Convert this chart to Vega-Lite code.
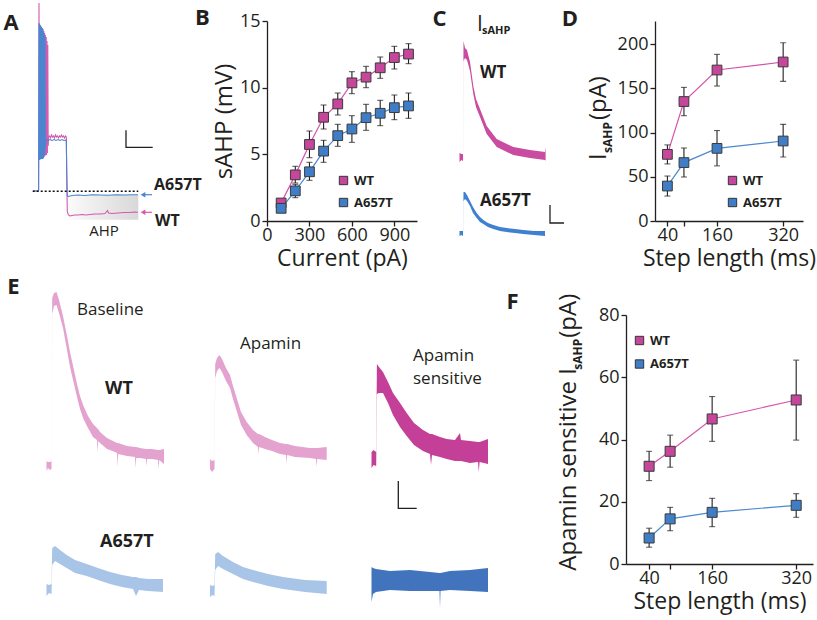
{
"$schema":"https://vega.github.io/schema/vega-lite/v6.json",
"padding":{"left":0,"top":0,"right":0,"bottom":4},
"autosize":{"type":"pad"},
"config":{
 "view":{"stroke":null},
 "font":"Open Sans",
 "axis":{"domainColor":"#231f20","domainWidth":1.3,"tickColor":"#231f20","tickWidth":1.3,"tickSize":5,"labelColor":"#231f20","labelFontSize":18,"labelPadding":0,"titleFontSize":23,"titleFontWeight":"normal","titleColor":"#231f20","grid":false,"labelFlush":false,"labelOverlap":false,"titlePadding":3},
 "legend":{"padding":0,"symbolType":"square","symbolSize":70,"symbolStrokeColor":"#333333","symbolStrokeWidth":1,"labelFontSize":13,"labelFontWeight":"bold","labelColor":"#231f20","labelOffset":4,"rowPadding":8}
},
"datasets":{
 "notes":[
  {"p":"Abig","txt":"A","t":11,"v":198},{"p":"Abig","txt":"B","t":202.5,"v":203},
  {"p":"Alab","txt":"A657T","t":154,"v":36},{"p":"Alab","txt":"WT","t":155,"v":0},
  {"p":"Anorm","txt":"AHP","t":104,"v":-10},
  {"p":"Cbig","txt":"C","t":22.5,"v":202},{"p":"Cbig","txt":"D","t":153,"v":202},
  {"p":"Clab","txt":"WT","t":63,"v":148},{"p":"Clab","txt":"A657T","t":63,"v":20},
  {"p":"CI","txt":"I","t":60,"v":190},{"p":"Csub","txt":"sAHP","t":65,"v":187},
  {"p":"DI","txt":"I","t":-108.5,"v":68.9},{"p":"DI","txt":"(pA)","t":-108.5,"v":114},{"p":"Dsub","txt":"sAHP","t":-94,"v":76.8},
  {"p":"Ebig","txt":"E","t":13.5,"v":277},{"p":"Ebig","txt":"F","t":512.5,"v":262},
  {"p":"Enorm","txt":"Baseline","t":77,"v":254},{"p":"Enorm","txt":"Apamin","t":240,"v":220.5},{"p":"Enorm","txt":"Apamin","t":413,"v":208},{"p":"Enorm","txt":"sensitive","t":413,"v":185},
  {"p":"Elab","txt":"WT","t":105,"v":175.5},{"p":"Elab","txt":"A657T","t":100,"v":22.5},
  {"p":"FI","txt":"Apamin sensitive I","t":-99.2,"v":-2.15},{"p":"FI","txt":"(pA)","t":-99.2,"v":72.7},{"p":"Fsub","txt":"sAHP","t":-87.8,"v":62.4}
 ],
 "A":[
  {"s":"box","t":67,"hi":26.3,"lo":1.3},{"s":"box","t":138.3,"hi":26.3,"lo":1.3},
  {"s":"bar","t":126,"v":90.7},{"s":"bar","t":126.01,"v":73.7},{"s":"bar","t":152.7,"v":73.7},
  {"s":"base","t":32.7,"v":29.7},{"s":"base","t":138.3,"v":29.7},
  {"s":"arrM","t":143,"v":26.3},{"s":"arrM","t":152,"v":26.3},
  {"s":"arrW","t":143,"v":8.7},{"s":"arrW","t":152,"v":8.7},
  {"s":"WT","t":33,"v":30},{"s":"WT","t":38,"v":30},{"s":"WT","t":38.6,"v":31},{"s":"WT","t":39,"v":218},{"s":"WT","t":39.4,"v":70},{"s":"WT","t":39.8,"v":196},{"s":"WT","t":40.2,"v":68},{"s":"WT","t":40.6,"v":195},{"s":"WT","t":41,"v":66},{"s":"WT","t":41.4,"v":194},{"s":"WT","t":41.8,"v":66},{"s":"WT","t":42.2,"v":193},{"s":"WT","t":42.6,"v":65},{"s":"WT","t":43,"v":192},{"s":"WT","t":43.4,"v":65},{"s":"WT","t":43.8,"v":190},{"s":"WT","t":44.2,"v":65},{"s":"WT","t":44.6,"v":188},{"s":"WT","t":45,"v":65},{"s":"WT","t":45.4,"v":186},{"s":"WT","t":45.8,"v":66},{"s":"WT","t":46.2,"v":184},{"s":"WT","t":46.6,"v":66},{"s":"WT","t":47,"v":180},{"s":"WT","t":47.4,"v":68},{"s":"WT","t":47.8,"v":176},{"s":"WT","t":48.2,"v":75},{"s":"WT","t":48.6,"v":84},{"s":"WT","t":49.5,"v":85},{"s":"WT","t":50.5,"v":83},{"s":"WT","t":51.5,"v":86},{"s":"WT","t":52.5,"v":84},{"s":"WT","t":53.5,"v":85},{"s":"WT","t":54.5,"v":83},{"s":"WT","t":55.5,"v":86},{"s":"WT","t":56.5,"v":84},{"s":"WT","t":57.5,"v":85},{"s":"WT","t":58.5,"v":83},{"s":"WT","t":59.5,"v":85},{"s":"WT","t":60.5,"v":84},{"s":"WT","t":61.5,"v":86},{"s":"WT","t":62.5,"v":84},{"s":"WT","t":63.5,"v":85},{"s":"WT","t":64.5,"v":83},{"s":"WT","t":65.5,"v":85},{"s":"WT","t":66.3,"v":84},{"s":"WT","t":66.8,"v":40},{"s":"WT","t":67.3,"v":9},{"s":"WT","t":68.5,"v":6},{"s":"WT","t":70,"v":5},{"s":"WT","t":72,"v":5.5},{"s":"WT","t":75,"v":6},{"s":"WT","t":78,"v":6},{"s":"WT","t":82,"v":6.5},{"s":"WT","t":86,"v":6},{"s":"WT","t":90,"v":6.5},{"s":"WT","t":95,"v":7},{"s":"WT","t":100,"v":7},{"s":"WT","t":105,"v":7.5},{"s":"WT","t":107.5,"v":10.5},{"s":"WT","t":108.5,"v":8},{"s":"WT","t":112,"v":7.5},{"s":"WT","t":118,"v":8},{"s":"WT","t":124,"v":8.5},{"s":"WT","t":130,"v":8.5},{"s":"WT","t":134,"v":9},{"s":"WT","t":138,"v":8.7},
  {"s":"M","t":33,"v":30},{"s":"M","t":38,"v":30},{"s":"M","t":38.6,"v":31},{"s":"M","t":39,"v":198},{"s":"M","t":39.3,"v":61},{"s":"M","t":39.6,"v":197},{"s":"M","t":39.9,"v":61},{"s":"M","t":40.2,"v":196},{"s":"M","t":40.5,"v":62},{"s":"M","t":40.8,"v":195},{"s":"M","t":41.1,"v":62},{"s":"M","t":41.4,"v":194},{"s":"M","t":41.7,"v":62},{"s":"M","t":42,"v":193},{"s":"M","t":42.3,"v":62},{"s":"M","t":42.6,"v":192},{"s":"M","t":42.9,"v":62},{"s":"M","t":43.2,"v":190},{"s":"M","t":43.5,"v":63},{"s":"M","t":43.8,"v":188},{"s":"M","t":44.1,"v":64},{"s":"M","t":44.4,"v":186},{"s":"M","t":44.7,"v":66},{"s":"M","t":45,"v":184},{"s":"M","t":45.3,"v":72},{"s":"M","t":45.7,"v":80},{"s":"M","t":46.5,"v":81.5},{"s":"M","t":48,"v":80.5},{"s":"M","t":50,"v":81.5},{"s":"M","t":52,"v":80.5},{"s":"M","t":54,"v":81.5},{"s":"M","t":56,"v":80.5},{"s":"M","t":58,"v":81.5},{"s":"M","t":60,"v":80.5},{"s":"M","t":62,"v":81.5},{"s":"M","t":64,"v":80.5},{"s":"M","t":66.3,"v":81},{"s":"M","t":66.8,"v":45},{"s":"M","t":67.3,"v":25},{"s":"M","t":68.5,"v":24.5},{"s":"M","t":72,"v":25.5},{"s":"M","t":78,"v":26},{"s":"M","t":85,"v":25.5},{"s":"M","t":92,"v":26.2},{"s":"M","t":100,"v":26},{"s":"M","t":108,"v":25.7},{"s":"M","t":116,"v":26.3},{"s":"M","t":124,"v":26},{"s":"M","t":132,"v":26.2},{"s":"M","t":138,"v":26.3}
 ],
 "C":[
  {"s":"bar","t":133,"hi":16},{"s":"bar","t":133.01,"hi":-2},{"s":"bar","t":147,"hi":-2},
  {"s":"WT","t":42.5,"hi":68,"lo":59},{"s":"WT","t":44.5,"hi":67,"lo":61},{"s":"WT","t":46,"hi":67,"lo":60},{"s":"WT","t":46.5,"hi":180,"lo":160},{"s":"WT","t":48,"hi":173,"lo":163},{"s":"WT","t":50,"hi":171,"lo":161},{"s":"WT","t":53,"hi":159,"lo":150},{"s":"WT","t":56.3,"hi":135,"lo":127},{"s":"WT","t":59,"hi":122,"lo":114},{"s":"WT","t":63,"hi":112,"lo":104},{"s":"WT","t":69.7,"hi":95,"lo":87},{"s":"WT","t":79.7,"hi":82,"lo":74},{"s":"WT","t":96.3,"hi":74,"lo":66},{"s":"WT","t":113,"hi":71,"lo":63},{"s":"WT","t":128,"hi":69,"lo":61},{"s":"WT","t":128.6,"hi":74,"lo":60},
  {"s":"M","t":42.5,"hi":-10,"lo":-15},{"s":"M","t":44.5,"hi":-10,"lo":-14},{"s":"M","t":46,"hi":-10,"lo":-15},{"s":"M","t":46.5,"hi":29,"lo":20},{"s":"M","t":48,"hi":29,"lo":22},{"s":"M","t":50,"hi":26,"lo":20},{"s":"M","t":53,"hi":20,"lo":15},{"s":"M","t":56,"hi":14,"lo":8},{"s":"M","t":59.7,"hi":8,"lo":3},{"s":"M","t":63,"hi":4,"lo":-1},{"s":"M","t":66.3,"hi":1,"lo":-3},{"s":"M","t":71,"hi":-2,"lo":-6},{"s":"M","t":76.3,"hi":-4,"lo":-8},{"s":"M","t":83,"hi":-6,"lo":-10},{"s":"M","t":89.7,"hi":-7,"lo":-11},{"s":"M","t":98,"hi":-8,"lo":-12},{"s":"M","t":106.3,"hi":-9,"lo":-13},{"s":"M","t":117,"hi":-10,"lo":-14},{"s":"M","t":128,"hi":-10,"lo":-15}
 ],
 "E":[
  {"s":"bar","t":398.3,"hi":83},{"s":"bar","t":398.31,"hi":55.7},{"s":"bar","t":416.7,"hi":55.7},
  {"s":"wtb","t":46.5,"hi":103,"lo":93},{"s":"wtb","t":48,"hi":102,"lo":96},{"s":"wtb","t":50,"hi":102,"lo":94},{"s":"wtb","t":51.5,"hi":103,"lo":95},{"s":"wtb","t":52.2,"hi":266,"lo":250},{"s":"wtb","t":54,"hi":271,"lo":258},{"s":"wtb","t":56.5,"hi":272,"lo":259},{"s":"wtb","t":59,"hi":264,"lo":251},{"s":"wtb","t":63,"hi":248,"lo":236},{"s":"wtb","t":67,"hi":228,"lo":214},{"s":"wtb","t":70,"hi":212,"lo":197},{"s":"wtb","t":73.5,"hi":196,"lo":182},{"s":"wtb","t":77,"hi":180,"lo":167},{"s":"wtb","t":80,"hi":168,"lo":155},{"s":"wtb","t":83.5,"hi":158,"lo":145},{"s":"wtb","t":88,"hi":148,"lo":136},{"s":"wtb","t":93,"hi":140,"lo":127},{"s":"wtb","t":97,"hi":136,"lo":124},{"s":"wtb","t":97.6,"hi":135,"lo":112},{"s":"wtb","t":98.2,"hi":135,"lo":123},{"s":"wtb","t":100,"hi":132,"lo":121},{"s":"wtb","t":107,"hi":126,"lo":115},{"s":"wtb","t":115,"hi":122,"lo":112},{"s":"wtb","t":117,"hi":121,"lo":111},{"s":"wtb","t":117.6,"hi":121,"lo":97},{"s":"wtb","t":118.2,"hi":121,"lo":110},{"s":"wtb","t":127,"hi":118,"lo":108},{"s":"wtb","t":135,"hi":117,"lo":107},{"s":"wtb","t":135.6,"hi":117,"lo":96},{"s":"wtb","t":136.2,"hi":117,"lo":106},{"s":"wtb","t":140,"hi":116,"lo":106},{"s":"wtb","t":146,"hi":115,"lo":105},{"s":"wtb","t":146.6,"hi":115,"lo":98},{"s":"wtb","t":147.2,"hi":115,"lo":105},{"s":"wtb","t":152,"hi":115,"lo":105},{"s":"wtb","t":158,"hi":114,"lo":104},{"s":"wtb","t":158.6,"hi":114,"lo":95},{"s":"wtb","t":159.2,"hi":114,"lo":104},{"s":"wtb","t":164,"hi":115,"lo":100},
  {"s":"wta","t":210,"hi":105,"lo":95},{"s":"wta","t":212,"hi":103,"lo":92},{"s":"wta","t":214.5,"hi":104,"lo":95},{"s":"wta","t":215.2,"hi":200,"lo":186},{"s":"wta","t":217,"hi":206,"lo":193},{"s":"wta","t":219.5,"hi":209,"lo":196},{"s":"wta","t":222,"hi":205,"lo":192},{"s":"wta","t":226,"hi":196,"lo":183},{"s":"wta","t":230,"hi":189,"lo":176},{"s":"wta","t":233,"hi":178,"lo":165},{"s":"wta","t":236.7,"hi":166,"lo":153},{"s":"wta","t":241,"hi":152,"lo":139},{"s":"wta","t":246.7,"hi":142,"lo":129},{"s":"wta","t":253,"hi":134,"lo":121},{"s":"wta","t":258,"hi":130,"lo":117},{"s":"wta","t":258.6,"hi":130,"lo":110},{"s":"wta","t":259.2,"hi":130,"lo":117},{"s":"wta","t":265,"hi":127,"lo":115},{"s":"wta","t":272,"hi":124,"lo":113},{"s":"wta","t":280,"hi":121,"lo":110},{"s":"wta","t":286,"hi":120,"lo":109},{"s":"wta","t":286.6,"hi":120,"lo":100},{"s":"wta","t":287.2,"hi":120,"lo":109},{"s":"wta","t":295,"hi":118,"lo":107},{"s":"wta","t":310,"hi":116,"lo":106},{"s":"wta","t":316,"hi":116,"lo":105},{"s":"wta","t":316.6,"hi":116,"lo":97},{"s":"wta","t":317.2,"hi":116,"lo":105},{"s":"wta","t":326.7,"hi":117,"lo":104},
  {"s":"wts","t":371.5,"hi":112,"lo":96},{"s":"wts","t":373.5,"hi":114,"lo":99},{"s":"wts","t":376.2,"hi":112,"lo":98},{"s":"wts","t":376.9,"hi":200,"lo":170},{"s":"wts","t":379,"hi":197,"lo":171},{"s":"wts","t":383,"hi":192,"lo":171},{"s":"wts","t":388,"hi":182,"lo":161},{"s":"wts","t":393,"hi":171,"lo":149},{"s":"wts","t":400,"hi":161,"lo":137},{"s":"wts","t":406.7,"hi":151,"lo":128},{"s":"wts","t":414,"hi":141,"lo":119},{"s":"wts","t":423,"hi":134,"lo":113},{"s":"wts","t":430,"hi":130,"lo":110},{"s":"wts","t":431,"hi":130,"lo":99},{"s":"wts","t":432,"hi":130,"lo":109},{"s":"wts","t":440,"hi":127,"lo":107},{"s":"wts","t":446.7,"hi":125,"lo":105},{"s":"wts","t":455,"hi":124,"lo":103},{"s":"wts","t":460,"hi":131,"lo":103},{"s":"wts","t":461,"hi":124,"lo":103},{"s":"wts","t":470,"hi":123,"lo":101},{"s":"wts","t":478,"hi":122,"lo":102},{"s":"wts","t":478.8,"hi":122,"lo":92},{"s":"wts","t":479.6,"hi":122,"lo":102},{"s":"wts","t":488,"hi":125,"lo":100},
  {"s":"mb","t":46.5,"hi":-20,"lo":-32},{"s":"mb","t":49,"hi":-21,"lo":-29},{"s":"mb","t":51.5,"hi":-20,"lo":-30},{"s":"mb","t":52.2,"hi":16,"lo":-1},{"s":"mb","t":55,"hi":18,"lo":3},{"s":"mb","t":60,"hi":14,"lo":0},{"s":"mb","t":66.7,"hi":9,"lo":-4},{"s":"mb","t":75,"hi":4,"lo":-9},{"s":"mb","t":86.7,"hi":0,"lo":-12},{"s":"mb","t":98,"hi":-4,"lo":-16},{"s":"mb","t":110,"hi":-8,"lo":-20},{"s":"mb","t":122,"hi":-11,"lo":-23},{"s":"mb","t":133,"hi":-13,"lo":-25},{"s":"mb","t":136,"hi":-13,"lo":-32},{"s":"mb","t":139,"hi":-14,"lo":-26},{"s":"mb","t":148,"hi":-15,"lo":-27},{"s":"mb","t":163,"hi":-15,"lo":-28},
  {"s":"ma","t":210,"hi":-21,"lo":-33},{"s":"ma","t":212.5,"hi":-22,"lo":-31},{"s":"ma","t":214.5,"hi":-21,"lo":-32},{"s":"ma","t":215.2,"hi":10,"lo":-6},{"s":"ma","t":218,"hi":12,"lo":-2},{"s":"ma","t":223,"hi":8,"lo":-5},{"s":"ma","t":233,"hi":2,"lo":-10},{"s":"ma","t":243,"hi":-3,"lo":-15},{"s":"ma","t":253,"hi":-6,"lo":-18},{"s":"ma","t":268,"hi":-10,"lo":-22},{"s":"ma","t":283,"hi":-13,"lo":-25},{"s":"ma","t":305,"hi":-16,"lo":-28},{"s":"ma","t":326.7,"hi":-17,"lo":-30},
  {"s":"ms","t":371.5,"hi":-3,"lo":-38},{"s":"ms","t":373,"hi":-4,"lo":-30},{"s":"ms","t":376,"hi":-5,"lo":-28},{"s":"ms","t":390,"hi":-7,"lo":-26},{"s":"ms","t":410,"hi":-6,"lo":-27},{"s":"ms","t":430,"hi":-8,"lo":-27},{"s":"ms","t":439.5,"hi":-9,"lo":-27},{"s":"ms","t":440,"hi":-9,"lo":-44},{"s":"ms","t":440.5,"hi":-9,"lo":-27},{"s":"ms","t":450,"hi":-7,"lo":-26},{"s":"ms","t":470,"hi":-6,"lo":-27},{"s":"ms","t":488,"hi":-4,"lo":-28}
 ],
 "B":[
  {"g":"WT","x":100,"m":1.35,"lo":1.1,"hi":1.6},{"g":"WT","x":200,"m":3.46,"lo":2.85,"hi":4.1},{"g":"WT","x":300,"m":5.74,"lo":4.75,"hi":6.75},{"g":"WT","x":400,"m":7.78,"lo":6.9,"hi":8.7},{"g":"WT","x":500,"m":8.78,"lo":7.95,"hi":9.6},{"g":"WT","x":600,"m":10.36,"lo":9.55,"hi":11.2},{"g":"WT","x":700,"m":10.79,"lo":10.0,"hi":11.6},{"g":"WT","x":800,"m":11.49,"lo":10.7,"hi":12.3},{"g":"WT","x":900,"m":12.26,"lo":11.4,"hi":13.1},{"g":"WT","x":1000,"m":12.52,"lo":11.8,"hi":13.3},
  {"g":"A657T","x":100,"m":0.95,"lo":0.7,"hi":1.2},{"g":"A657T","x":200,"m":2.26,"lo":1.75,"hi":2.75},{"g":"A657T","x":300,"m":3.69,"lo":3.05,"hi":4.4},{"g":"A657T","x":400,"m":5.24,"lo":4.4,"hi":6.05},{"g":"A657T","x":500,"m":6.4,"lo":5.6,"hi":7.25},{"g":"A657T","x":600,"m":6.9,"lo":5.9,"hi":7.9},{"g":"A657T","x":700,"m":7.75,"lo":6.8,"hi":8.75},{"g":"A657T","x":800,"m":8.08,"lo":7.15,"hi":9.05},{"g":"A657T","x":900,"m":8.5,"lo":7.6,"hi":9.45},{"g":"A657T","x":1000,"m":8.63,"lo":7.7,"hi":9.6}
 ],
 "D":[
  {"g":"WT","x":40,"m":75.3,"lo":64.5,"hi":86},{"g":"WT","x":80,"m":135,"lo":119,"hi":151},{"g":"WT","x":160,"m":170.6,"lo":152.5,"hi":188.3},{"g":"WT","x":320,"m":179.7,"lo":157.8,"hi":201.5},
  {"g":"A657T","x":40,"m":39.5,"lo":28.2,"hi":50.8},{"g":"A657T","x":80,"m":66,"lo":49.7,"hi":82.5},{"g":"A657T","x":160,"m":82.1,"lo":62.3,"hi":102.2},{"g":"A657T","x":320,"m":90.4,"lo":72.3,"hi":109.2}
 ],
 "F":[
  {"g":"WT","x":40,"m":31.4,"lo":26.8,"hi":36.2},{"g":"WT","x":80,"m":36.2,"lo":31.1,"hi":41.4},{"g":"WT","x":160,"m":46.6,"lo":39.4,"hi":53.8},{"g":"WT","x":320,"m":52.7,"lo":39.8,"hi":65.5},
  {"g":"A657T","x":40,"m":8.35,"lo":5.4,"hi":11.5},{"g":"A657T","x":80,"m":14.5,"lo":10.7,"hi":18.2},{"g":"A657T","x":160,"m":16.6,"lo":12.0,"hi":21.1},{"g":"A657T","x":320,"m":18.85,"lo":15.0,"hi":22.6}
 ]
},
"spacing":5,
"bounds":"full",
"resolve":{"scale":{"color":"independent"},"legend":{"color":"independent"}},
"vconcat":[
 {"hconcat":[
  {"width":267,"height":200,
   "data":{"name":"A"},
   "encoding":{"x":{"field":"t","type":"quantitative","scale":{"domain":[0,267],"nice":false,"zero":false},"axis":null},"y":{"field":"v","type":"quantitative","scale":{"domain":[0,200],"nice":false,"zero":false},"axis":null}},
   "layer":[
    {"transform":[{"filter":"datum.s === 'box'"}],"mark":{"type":"area","fill":{"gradient":"linear","x1":0,"y1":0,"x2":1,"y2":0,"stops":[{"offset":0,"color":"#fbfbfb"},{"offset":1,"color":"#d8d8d8"}]}},"encoding":{"y":{"field":"hi","type":"quantitative"},"y2":{"field":"lo"}}},
    {"transform":[{"filter":"datum.s === 'WT'"}],"mark":{"type":"line","color":"#d65aae","strokeWidth":1.1}},
    {"transform":[{"filter":"datum.s === 'M'"}],"mark":{"type":"line","color":"#4a86cf","strokeWidth":1.1}},
    {"transform":[{"filter":"datum.s === 'base'"}],"mark":{"type":"line","color":"#111111","strokeWidth":1.6,"strokeDash":[2,2]}},
    {"transform":[{"filter":"datum.s === 'arrM'"}],"mark":{"type":"line","color":"#4a86cf","strokeWidth":1.2}},
    {"transform":[{"filter":"datum.s === 'arrW'"}],"mark":{"type":"line","color":"#d65aae","strokeWidth":1.2}},
    {"transform":[{"filter":"datum.s === 'arrM' && datum.t === 143"}],"mark":{"type":"point","shape":"triangle-left","filled":true,"opacity":1,"size":30,"color":"#4a86cf"}},
    {"transform":[{"filter":"datum.s === 'arrW' && datum.t === 143"}],"mark":{"type":"point","shape":"triangle-left","filled":true,"opacity":1,"size":30,"color":"#d65aae"}},
    {"transform":[{"filter":"datum.s === 'bar'"}],"mark":{"type":"line","color":"#231f20","strokeWidth":1.3}},
    {"data":{"name":"notes"},"transform":[{"filter":"datum.p === 'Abig'"}],"mark":{"type":"text","fontSize":22,"fontWeight":"bold","align":"center","baseline":"middle","color":"#231f20"},"encoding":{"text":{"field":"txt"}}},
    {"data":{"name":"notes"},"transform":[{"filter":"datum.p === 'Alab'"}],"mark":{"type":"text","fontSize":16,"fontWeight":"bold","align":"left","baseline":"middle","color":"#231f20"},"encoding":{"text":{"field":"txt"}}},
    {"data":{"name":"notes"},"transform":[{"filter":"datum.p === 'Anorm'"}],"mark":{"type":"text","fontSize":15,"align":"center","baseline":"middle","color":"#231f20"},"encoding":{"text":{"field":"txt"}}}
   ]},
  {"width":150,"height":200,
   "data":{"name":"B"},
   "encoding":{"x":{"field":"x","type":"quantitative","scale":{"domain":[0,1060],"nice":false,"zero":false},"axis":{"values":[0,300,600,900],"title":"Current (pA)"}}},
   "layer":[
    {"transform":[{"filter":"datum.g === 'WT'"}],"mark":{"type":"line","strokeWidth":1.2,"color":"#d453aa"},"encoding":{"y":{"field":"m","type":"quantitative","scale":{"domain":[0,15],"nice":false},"axis":{"values":[0,5,10,15],"title":"sAHP (mV)","titleFontSize":24,"labelPadding":2}}}},
    {"transform":[{"filter":"datum.g === 'A657T'"}],"mark":{"type":"line","strokeWidth":1.2,"color":"#4b89d0"},"encoding":{"y":{"field":"m","type":"quantitative"}}},
    {"mark":{"type":"rule","color":"#231f20","strokeWidth":1.1},"encoding":{"y":{"field":"lo","type":"quantitative"},"y2":{"field":"hi"}}},
    {"mark":{"type":"tick","orient":"horizontal","size":6,"thickness":1.1,"color":"#231f20"},"encoding":{"y":{"field":"lo","type":"quantitative"}}},
    {"mark":{"type":"tick","orient":"horizontal","size":6,"thickness":1.1,"color":"#231f20"},"encoding":{"y":{"field":"hi","type":"quantitative"}}},
    {"mark":{"type":"point","shape":"square","filled":true,"size":95,"stroke":"#3a3a3a","strokeWidth":1,"opacity":1},"encoding":{"y":{"field":"m","type":"quantitative"},"color":{"field":"g","type":"nominal","scale":{"domain":["WT","A657T"],"range":["#c6469c","#3f7ec6"]},"legend":{"orient":"none","legendX":70,"legendY":153,"title":null}}}}
   ]},
  {"width":238,"height":200,
   "data":{"name":"C"},
   "encoding":{"x":{"field":"t","type":"quantitative","scale":{"domain":[0,238],"nice":false,"zero":false},"axis":null},"y":{"field":"hi","type":"quantitative","scale":{"domain":[0,200],"nice":false,"zero":false},"axis":null}},
   "layer":[
    {"transform":[{"filter":"datum.s === 'WT'"}],"mark":{"type":"area","color":"#c94ca1"},"encoding":{"y2":{"field":"lo"}}},
    {"transform":[{"filter":"datum.s === 'M'"}],"mark":{"type":"area","color":"#3f80cf"},"encoding":{"y2":{"field":"lo"}}},
    {"transform":[{"filter":"datum.s === 'bar'"}],"mark":{"type":"line","color":"#231f20","strokeWidth":1.3}},
    {"data":{"name":"notes"},"transform":[{"filter":"datum.p === 'Cbig'"}],"mark":{"type":"text","fontSize":22,"fontWeight":"bold","align":"center","baseline":"middle","color":"#231f20"},"encoding":{"y":{"field":"v","type":"quantitative"},"text":{"field":"txt"}}},
    {"data":{"name":"notes"},"transform":[{"filter":"datum.p === 'Clab'"}],"mark":{"type":"text","fontSize":17,"fontWeight":"bold","align":"left","baseline":"middle","color":"#231f20"},"encoding":{"y":{"field":"v","type":"quantitative"},"text":{"field":"txt"}}},
    {"data":{"name":"notes"},"transform":[{"filter":"datum.p === 'CI'"}],"mark":{"type":"text","fontSize":21,"align":"left","baseline":"alphabetic","color":"#231f20"},"encoding":{"y":{"field":"v","type":"quantitative"},"text":{"field":"txt"}}},
    {"data":{"name":"notes"},"transform":[{"filter":"datum.p === 'Csub'"}],"mark":{"type":"text","fontSize":11,"fontWeight":"bold","align":"left","baseline":"alphabetic","color":"#231f20"},"encoding":{"y":{"field":"v","type":"quantitative"},"text":{"field":"txt"}}}
   ]},
  {"width":148,"height":200,
   "data":{"name":"D"},
   "encoding":{"x":{"field":"x","type":"quantitative","scale":{"domain":[10,368],"nice":false,"zero":false},"axis":{"values":[40,80,160,320],"labelExpr":"datum.value == 80 ? '' : datum.label","title":"Step length (ms)"}}},
   "layer":[
    {"transform":[{"filter":"datum.g === 'WT'"}],"mark":{"type":"line","strokeWidth":1.2,"color":"#d453aa"},"encoding":{"y":{"field":"m","type":"quantitative","scale":{"domain":[0,226],"nice":false},"axis":{"values":[0,50,100,150,200],"title":null,"labelPadding":2}}}},
    {"transform":[{"filter":"datum.g === 'A657T'"}],"mark":{"type":"line","strokeWidth":1.2,"color":"#4b89d0"},"encoding":{"y":{"field":"m","type":"quantitative"}}},
    {"mark":{"type":"rule","color":"#231f20","strokeWidth":1.1},"encoding":{"y":{"field":"lo","type":"quantitative"},"y2":{"field":"hi"}}},
    {"mark":{"type":"tick","orient":"horizontal","size":6,"thickness":1.1,"color":"#231f20"},"encoding":{"y":{"field":"lo","type":"quantitative"}}},
    {"mark":{"type":"tick","orient":"horizontal","size":6,"thickness":1.1,"color":"#231f20"},"encoding":{"y":{"field":"hi","type":"quantitative"}}},
    {"mark":{"type":"point","shape":"square","filled":true,"size":95,"stroke":"#3a3a3a","strokeWidth":1,"opacity":1},"encoding":{"y":{"field":"m","type":"quantitative"},"color":{"field":"g","type":"nominal","scale":{"domain":["WT","A657T"],"range":["#c6469c","#3f7ec6"]},"legend":{"orient":"none","legendX":71,"legendY":153,"title":null}}}},
    {"data":{"name":"notes"},"transform":[{"filter":"datum.p === 'DI'"}],"mark":{"type":"text","fontSize":24,"angle":270,"align":"left","baseline":"alphabetic","color":"#231f20"},"encoding":{"x":{"field":"t","type":"quantitative"},"y":{"field":"v","type":"quantitative"},"text":{"field":"txt"}}},
    {"data":{"name":"notes"},"transform":[{"filter":"datum.p === 'Dsub'"}],"mark":{"type":"text","fontSize":12,"fontWeight":"bold","angle":270,"align":"left","baseline":"alphabetic","color":"#231f20"},"encoding":{"x":{"field":"t","type":"quantitative"},"y":{"field":"v","type":"quantitative"},"text":{"field":"txt"}}}
   ]}
 ],"spacing":0,"bounds":"flush","resolve":{"scale":{"color":"independent"},"legend":{"color":"independent"}}},
 {"hconcat":[
  {"width":626,"height":249,
   "data":{"name":"E"},
   "encoding":{"x":{"field":"t","type":"quantitative","scale":{"domain":[0,626],"nice":false,"zero":false},"axis":null},"y":{"field":"hi","type":"quantitative","scale":{"domain":[0,249],"nice":false,"zero":false},"axis":null}},
   "layer":[
    {"transform":[{"filter":"datum.s === 'wtb' || datum.s === 'wta'"}],"mark":{"type":"area","color":"#e4a3cf"},"encoding":{"y2":{"field":"lo"},"detail":{"field":"s"}}},
    {"transform":[{"filter":"datum.s === 'wts'"}],"mark":{"type":"area","color":"#c43f98"},"encoding":{"y2":{"field":"lo"}}},
    {"transform":[{"filter":"datum.s === 'mb' || datum.s === 'ma'"}],"mark":{"type":"area","color":"#a8c5e8"},"encoding":{"y2":{"field":"lo"},"detail":{"field":"s"}}},
    {"transform":[{"filter":"datum.s === 'ms'"}],"mark":{"type":"area","color":"#4274be"},"encoding":{"y2":{"field":"lo"}}},
    {"transform":[{"filter":"datum.s === 'bar'"}],"mark":{"type":"line","color":"#231f20","strokeWidth":1.3}},
    {"data":{"name":"notes"},"transform":[{"filter":"datum.p === 'Ebig'"}],"mark":{"type":"text","fontSize":22,"fontWeight":"bold","align":"center","baseline":"middle","color":"#231f20"},"encoding":{"y":{"field":"v","type":"quantitative"},"text":{"field":"txt"}}},
    {"data":{"name":"notes"},"transform":[{"filter":"datum.p === 'Enorm'"}],"mark":{"type":"text","fontSize":17,"align":"left","baseline":"middle","color":"#231f20"},"encoding":{"y":{"field":"v","type":"quantitative"},"text":{"field":"txt"}}},
    {"data":{"name":"notes"},"transform":[{"filter":"datum.p === 'Elab'"}],"mark":{"type":"text","fontSize":18,"fontWeight":"bold","align":"left","baseline":"middle","color":"#231f20"},"encoding":{"y":{"field":"v","type":"quantitative"},"text":{"field":"txt"}}}
   ]},
  {"width":187,"height":249,
   "data":{"name":"F"},
   "encoding":{"x":{"field":"x","type":"quantitative","scale":{"domain":[-4,352],"nice":false,"zero":false},"axis":{"values":[40,80,160,320],"labelExpr":"datum.value == 80 ? '' : datum.label","title":"Step length (ms)"}}},
   "layer":[
    {"transform":[{"filter":"datum.g === 'WT'"}],"mark":{"type":"line","strokeWidth":1.2,"color":"#d453aa"},"encoding":{"y":{"field":"m","type":"quantitative","scale":{"domain":[0,80],"nice":false},"axis":{"values":[0,20,40,60,80],"title":null,"labelPadding":2}}}},
    {"transform":[{"filter":"datum.g === 'A657T'"}],"mark":{"type":"line","strokeWidth":1.2,"color":"#4b89d0"},"encoding":{"y":{"field":"m","type":"quantitative"}}},
    {"mark":{"type":"rule","color":"#231f20","strokeWidth":1.1},"encoding":{"y":{"field":"lo","type":"quantitative"},"y2":{"field":"hi"}}},
    {"mark":{"type":"tick","orient":"horizontal","size":6,"thickness":1.1,"color":"#231f20"},"encoding":{"y":{"field":"lo","type":"quantitative"}}},
    {"mark":{"type":"tick","orient":"horizontal","size":6,"thickness":1.1,"color":"#231f20"},"encoding":{"y":{"field":"hi","type":"quantitative"}}},
    {"mark":{"type":"point","shape":"square","filled":true,"size":100,"stroke":"#3a3a3a","strokeWidth":1,"opacity":1},"encoding":{"y":{"field":"m","type":"quantitative"},"color":{"field":"g","type":"nominal","scale":{"domain":["WT","A657T"],"range":["#c6469c","#3f7ec6"]},"legend":{"orient":"none","legendX":7,"legendY":19,"title":null,"rowPadding":9.5}}}},
    {"data":{"name":"notes"},"transform":[{"filter":"datum.p === 'FI'"}],"mark":{"type":"text","fontSize":24,"angle":270,"align":"left","baseline":"alphabetic","color":"#231f20"},"encoding":{"x":{"field":"t","type":"quantitative"},"y":{"field":"v","type":"quantitative"},"text":{"field":"txt"}}},
    {"data":{"name":"notes"},"transform":[{"filter":"datum.p === 'Fsub'"}],"mark":{"type":"text","fontSize":12,"fontWeight":"bold","angle":270,"align":"left","baseline":"alphabetic","color":"#231f20"},"encoding":{"x":{"field":"t","type":"quantitative"},"y":{"field":"v","type":"quantitative"},"text":{"field":"txt"}}}
   ]}
 ],"spacing":0,"bounds":"flush","resolve":{"scale":{"color":"independent"},"legend":{"color":"independent"}}}
]
}
